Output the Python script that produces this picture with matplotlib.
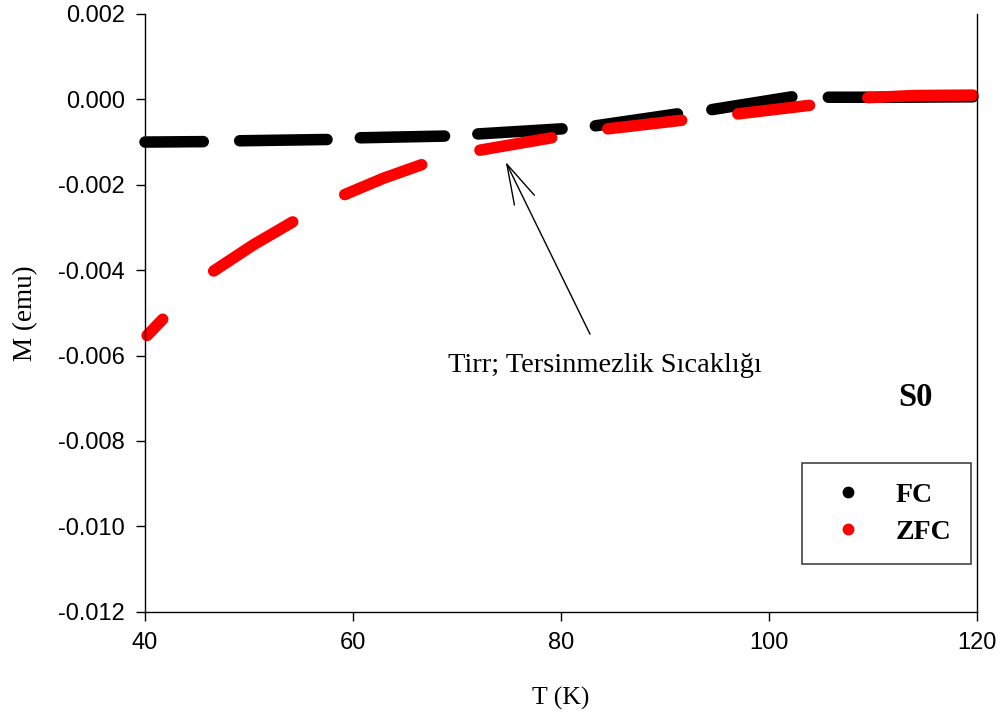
import numpy as np
import matplotlib.pyplot as plt
from matplotlib.lines import Line2D

plt.rcParams['font.family'] = ['Liberation Sans', 'DejaVu Sans']

# FC / ZFC magnetisation (nan = gap between runs)
nan = np.nan
fc_T = [40.0, 45.6, nan,
        49.1, 57.5, nan,
        60.7, 68.8, nan,
        72.0, 80.1, nan,
        83.3, 91.2, nan,
        94.5, 102.2, nan,
        105.7, 112.0, 119.6]
fc_M = [-0.00100, -0.00099, nan,
        -0.00097, -0.00094, nan,
        -0.00090, -0.00086, nan,
        -0.00081, -0.00069, nan,
        -0.00062, -0.00034, nan,
        -0.00024, 0.00006, nan,
        0.00005, 0.00005, 0.00006]

zfc_T = [40.2, 41.7, nan,
         46.6, 50.4, 54.2, nan,
         59.2, 62.9, 66.6, nan,
         72.2, 79.1, nan,
         84.5, 91.6, nan,
         97.0, 103.9, nan,
         109.5, 114.0, 119.6]
zfc_M = [-0.00553, -0.00515, nan,
         -0.00402, -0.00341, -0.00287, nan,
         -0.00223, -0.00185, -0.00153, nan,
         -0.00119, -0.00090, nan,
         -0.00069, -0.00049, nan,
         -0.00034, -0.00014, nan,
         0.00004, 0.00009, 0.00010]

xticks = [40, 60, 80, 100, 120]
yticks = [0.002, 0.000, -0.002, -0.004, -0.006, -0.008, -0.010, -0.012]

fig = plt.figure(figsize=(10.03, 7.17), dpi=100)
ax = fig.add_axes([0.1446, 0.1469, 0.8295, 0.8336])

lw = 8.3
ax.plot(fc_T, fc_M, color='black', lw=lw, solid_capstyle='round', clip_on=False)
ax.plot(zfc_T, zfc_M, color='#ff0000', lw=lw, solid_capstyle='round', clip_on=False)

ax.set_xlim(40, 120)
ax.set_ylim(-0.012, 0.002)
ax.set_xticks(xticks)
ax.set_xticklabels([str(t) for t in xticks])
ax.set_yticks(yticks)
ax.set_yticklabels(['%.3f' % v for v in yticks])
ax.tick_params(direction='out', length=6.5, width=1.0, labelsize=17)
ax.tick_params(axis='x', pad=8)
ax.tick_params(axis='y', pad=8)
ax.spines['top'].set_visible(False)
for s in ['left', 'bottom', 'right']:
    ax.spines[s].set_linewidth(1.0)

serif = ['Liberation Serif', 'DejaVu Serif']
ax.set_xlabel('T (K)', family=serif, fontsize=18.5, labelpad=24)
ax.set_ylabel('M (emu)', family=serif, fontsize=19.5, labelpad=14)

# irreversibility temperature arrow
ax.annotate('', xy=(74.68, -0.001464), xytext=(82.79, -0.005501),
            arrowprops=dict(arrowstyle='->,head_length=1.44,head_width=0.4',
                            color='black', lw=1.0, mutation_scale=20,
                            shrinkA=0, shrinkB=0))
ax.text(84.23, -0.006389, 'Tirr; Tersinmezlik Sıcaklığı', family=serif,
        fontsize=20.5, ha='center', va='baseline')

ax.text(114.04, -0.007192, 'S0', family=serif, fontsize=23.5, fontweight='bold',
        ha='center', va='baseline')

handles = [Line2D([], [], marker='o', color='black', ls='none', markersize=7.5),
           Line2D([], [], marker='o', color='#ff0000', ls='none', markersize=7.5)]
leg = ax.legend(handles, ['FC', 'ZFC'], loc='upper left',
                bbox_to_anchor=(0.7897, 0.2488), borderaxespad=0,
                prop={'family': serif, 'weight': 'bold', 'size': 20},
                frameon=True, fancybox=False, edgecolor='black',
                borderpad=0.7, handlelength=1.9, handletextpad=0.78,
                labelspacing=0.42)
leg.get_frame().set_linewidth(1.1)

plt.savefig('out.png', dpi=100)
